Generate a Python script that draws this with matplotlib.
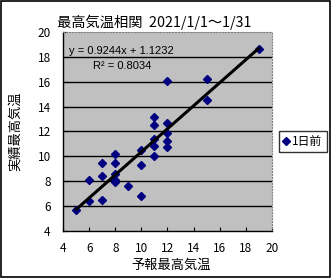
import matplotlib
matplotlib.use("Agg")
import matplotlib.pyplot as plt
import numpy as np

plt.rcParams['font.family'] = ['Noto Sans CJK JP', 'DejaVu Sans']

forecast = [5, 6, 6, 7, 7, 7, 8, 8, 8, 8, 8, 9, 10, 10, 10,
            11, 11, 11, 11, 11, 12, 12, 12, 12, 12, 15, 15, 19]
actual = [5.7, 8.1, 6.4, 9.5, 8.4, 6.5, 10.2, 9.5, 8.6, 8.1, 7.95, 7.6, 10.5, 9.3, 6.8,
          13.2, 12.5, 11.4, 10.8, 10.0, 16.05, 12.7, 11.9, 11.2, 10.75, 16.2, 14.5, 18.65]
slope = 0.9244
intercept = 1.1232
r2 = 0.8034
title = "最高気温相関  2021/1/1～1/31"
xlabel = "予報最高気温"
ylabel = "実績最高気温"
series_name = "1日前"
ticks = [4, 6, 8, 10, 12, 14, 16, 18, 20]

fig = plt.figure(figsize=(3.31, 2.78), dpi=100)
fig.patch.set_facecolor('white')
fig.patches.append(plt.Rectangle((0.002, 0.002), 0.995, 0.995, transform=fig.transFigure,
                                 fill=False, edgecolor='black', linewidth=1.2))

ax = fig.add_axes([0.191, 0.169, 0.630, 0.716])
ax.set_facecolor('#c0c0c0')
ax.set_xlim(4, 20)
ax.set_ylim(4, 20)
ax.set_xticks(ticks)
ax.set_yticks(ticks)
for y in ticks[1:-1]:
    ax.axhline(y, color='black', linewidth=1.0, zorder=1)

for s in ['top', 'right']:
    ax.spines[s].set_color('#808080')
    ax.spines[s].set_linestyle(':')
    ax.spines[s].set_linewidth(0.8)
for s in ['left', 'bottom']:
    ax.spines[s].set_color('black')
    ax.spines[s].set_linewidth(1.0)

ax.tick_params(direction='in', length=3, width=0.8, labelsize=8.5)
ax.tick_params(axis='y', pad=9)
ax.tick_params(axis='x', pad=8)

ax.plot(forecast, actual, linestyle='none', marker='D', markersize=4.4,
        color='#000080', zorder=3, label=series_name)
xs = np.array([min(forecast), max(forecast)])
ax.plot(xs, slope * xs + intercept, color='black', linewidth=2.2, zorder=4)

eqfam = ['Liberation Sans', 'DejaVu Sans']
ax.text(0.028, 0.905, f"y = {slope:.4f}x + {intercept:.4f}", transform=ax.transAxes,
        fontsize=8, ha='left', va='center', family=eqfam)
ax.text(0.145, 0.83, f"R² = {r2:.4f}", transform=ax.transAxes,
        fontsize=8, ha='left', va='center', family=eqfam)

fig.text(0.465, 0.92, title, fontsize=10.3, ha='center', va='center')
ax.set_xlabel(xlabel, fontsize=9.5)
ax.set_ylabel(ylabel, fontsize=9.5)
ax.xaxis.set_label_coords(0.515, -0.142)
ax.yaxis.set_label_coords(-0.2, 0.5)

leg = ax.legend(loc='center left', bbox_to_anchor=(1.005, 0.45), fontsize=8.5,
                frameon=True, fancybox=False, edgecolor='black', handlelength=0.6,
                handletextpad=0.2, borderpad=0.35, markerscale=0.9)
leg.get_frame().set_linewidth(1.0)

fig.savefig('out.png', dpi=100)
